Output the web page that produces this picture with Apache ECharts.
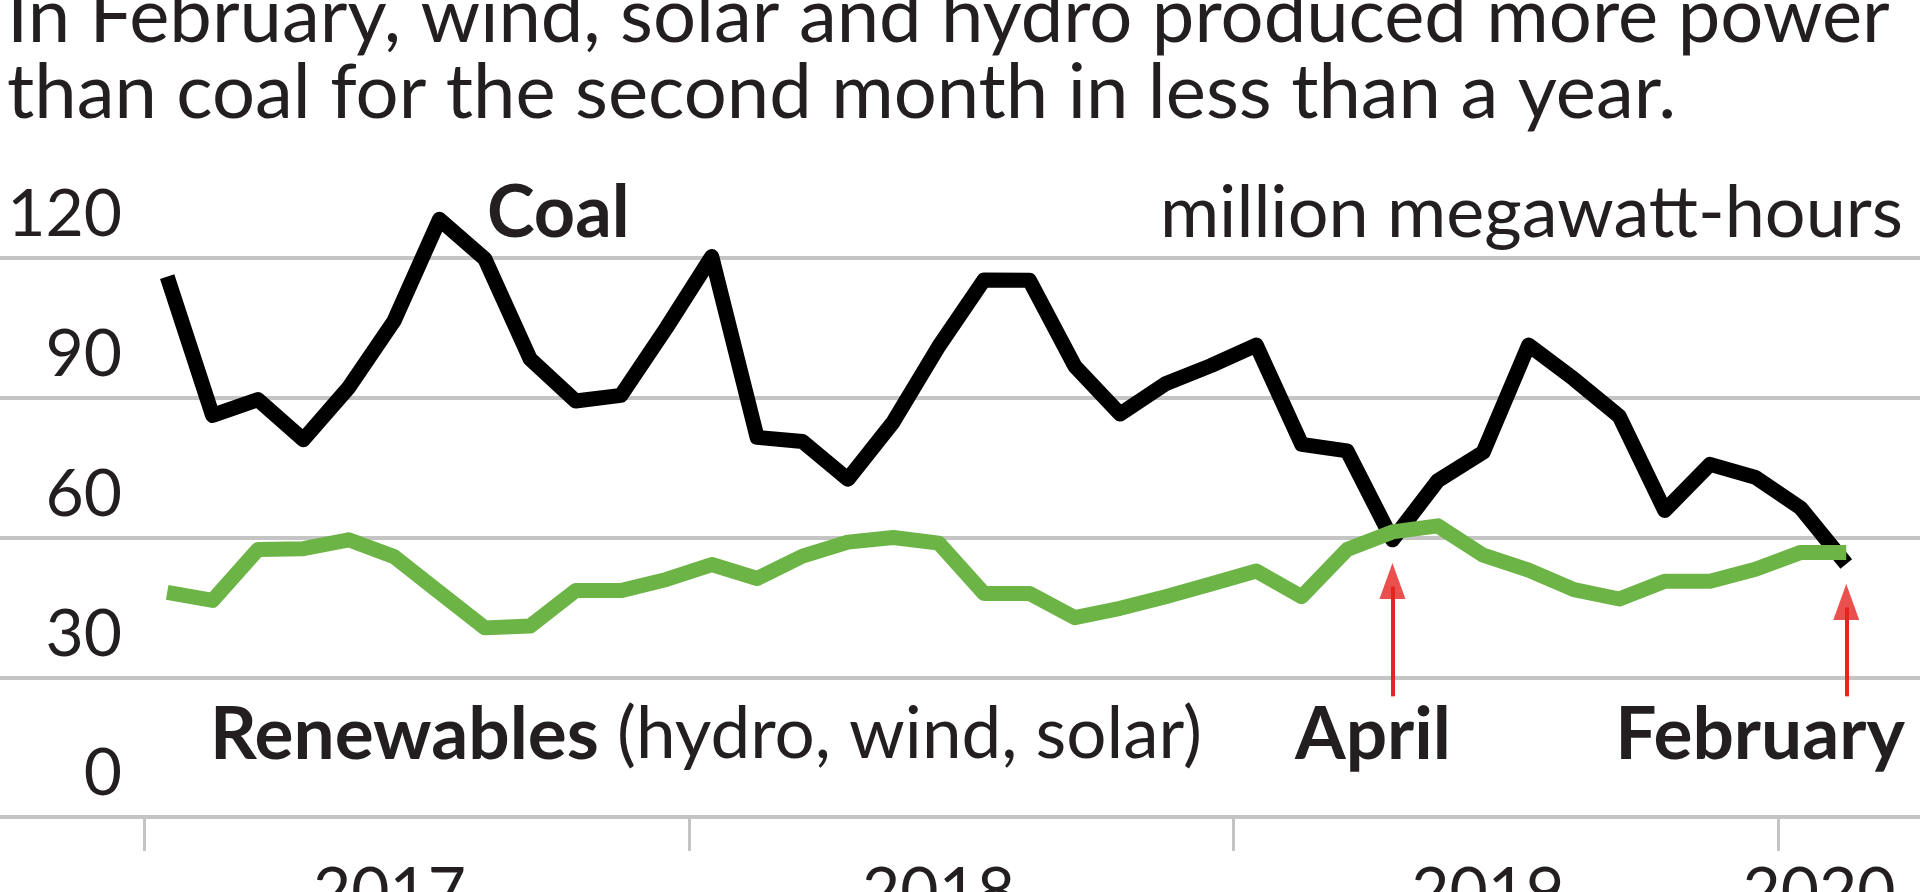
<!DOCTYPE html>
<html>
<head>
<meta charset="utf-8">
<script src="https://cdn.jsdelivr.net/npm/echarts@6/dist/echarts.min.js"></script>
<style>
  html, body { margin: 0; padding: 0; background: #ffffff; }
  #chart { width: 1920px; height: 892px; }
</style>
</head>
<body>
<div id="chart"></div>
<script>
// ---- Data ----
const months = [
  '2017-01','2017-02','2017-03','2017-04','2017-05','2017-06','2017-07','2017-08','2017-09','2017-10','2017-11','2017-12',
  '2018-01','2018-02','2018-03','2018-04','2018-05','2018-06','2018-07','2018-08','2018-09','2018-10','2018-11','2018-12',
  '2019-01','2019-02','2019-03','2019-04','2019-05','2019-06','2019-07','2019-08','2019-09','2019-10','2019-11','2019-12',
  '2020-01','2020-02'
];
const coal = [
  116, 86.2, 89.6, 81, 92.2, 106.5, 128.3, 119.8, 98.3, 89.3, 90.5, 105,
  120.3, 81.5, 80.6, 72.5, 84.8, 101, 115.3, 115.2, 96.8, 86.5, 93, 96.9,
  101.3, 80, 78.6, 59.5, 72.2, 78.3, 101.3, 94, 86, 65.8, 75.7, 72.9,
  66.3, 54.3
];
const renewables = [
  48.2, 46.5, 57.4, 57.6, 59.5, 55.9, 48.2, 40.6, 41, 48.6, 48.6, 51,
  54.2, 51.2, 56, 59, 60, 58.8, 48, 48, 42.8, 44.8, 47.3, 50,
  52.8, 47.3, 57.4, 61.2, 62.5, 56.2, 53, 48.8, 46.8, 50.6, 50.6, 53.2,
  56.8, 56.8
];
const yTicks = [0, 30, 60, 90, 120];
const yearLabels = ['2017', '2018', '2019', '2020'];
const titleLines = [
  'In February, wind, solar and hydro produced more power',
  'than coal for the second month in less than a year.'
];
const highlightMonths = ['2019-04', '2020-02'];
const highlightLabels = ['April', 'February'];

// ---- Build ----
const FONT = 'Lato, "Open Sans", "Noto Sans", sans-serif';
const TXT = '#231f20';
const RED = '#e52421';
const GREEN = '#6cb446';
const GRIDC = '#c4c4c4';

const xOf = (i) => i + 0.5; // data point placed mid-month; 0 = start of Jan 2017
const coalData = coal.map((v, i) => [xOf(i), v]);
const renData = renewables.map((v, i) => [xOf(i), v]);
const hiIdx = highlightMonths.map(m => months.indexOf(m));
const arrowTips = [54.5, 50.0];
const arrowBase = 25.9;

const chart = echarts.init(document.getElementById('chart'), null, { renderer: 'canvas' });

const textStyle = (font, align) => ({
  font: font, fill: TXT,
  textAlign: align, align: align,
  textVerticalAlign: 'middle', verticalAlign: 'middle'
});

const option = {
  animation: false,
  backgroundColor: '#ffffff',
  grid: { left: 0, right: 0, top: 258, bottom: 75, containLabel: false, outerBoundsMode: 'none' },
  xAxis: {
    type: 'value',
    min: -3.184,
    max: 39.125,
    axisLine: { show: false },
    splitLine: { show: false },
    axisTick: {
      show: true,
      customValues: [0, 12, 24, 36],
      length: 34,
      lineStyle: { color: GRIDC, width: 3 }
    },
    axisLabel: {
      show: true,
      customValues: [5.4, 17.5, 29.6, 36.9],
      formatter: (v) => yearLabels[Math.floor(v / 12)],
      margin: 43,
      fontFamily: FONT,
      fontSize: 66,
      lineHeight: 66,
      color: TXT
    }
  },
  yAxis: {
    type: 'value',
    min: 0,
    max: 120,
    interval: 30,
    axisLine: { show: false },
    axisTick: { show: false },
    splitLine: { show: true, lineStyle: { color: GRIDC, width: 4 } },
    axisLabel: {
      inside: true,
      align: 'right',
      verticalAlign: 'bottom',
      margin: 122,
      lineHeight: 86,
      fontFamily: FONT,
      fontSize: 66,
      color: TXT,
      formatter: (v) => (yTicks.indexOf(v) >= 0 ? String(v) : '')
    }
  },
  series: [
    {
      name: 'Coal',
      type: 'line',
      data: coalData,
      showSymbol: false,
      clip: false,
      z: 3,
      lineStyle: { color: '#000000', width: 15, join: 'round' },
      silent: true
    },
    {
      name: 'Renewables',
      type: 'line',
      data: renData,
      showSymbol: false,
      clip: false,
      z: 4,
      lineStyle: { color: GREEN, width: 15, join: 'round' },
      silent: true
    },
    {
      name: 'arrows',
      type: 'line',
      data: [],
      z: 5,
      silent: true,
      markLine: {
        silent: true,
        symbol: ['none', 'none'],
        label: { show: false },
        lineStyle: { color: RED, width: 4, type: 'solid' },
        data: hiIdx.map((idx, k) => [
          { coord: [xOf(idx), arrowBase] },
          { coord: [xOf(idx), arrowTips[k] - 5] }
        ])
      }
    },
    {
      name: 'arrowheads',
      type: 'scatter',
      z: 5,
      silent: true,
      symbol: 'triangle',
      symbolSize: [26, 36],
      symbolOffset: [0, '50%'],
      itemStyle: { color: RED },
      data: hiIdx.map((idx, k) => [xOf(idx), arrowTips[k]])
    }
  ],
  graphic: [
    { type: 'text', x: 7, y: 17, style: Object.assign({ text: titleLines[0] }, textStyle('76px ' + FONT, 'left')) },
    { type: 'text', x: 7, y: 93, style: Object.assign({ text: titleLines[1] }, textStyle('76px ' + FONT, 'left')) },
    { type: 'text', x: 487, y: 214, style: Object.assign({ text: 'Coal' }, textStyle('bold 72px ' + FONT, 'left')) },
    { type: 'text', x: 1903, y: 214, style: Object.assign({ text: 'million megawatt-hours' }, textStyle('72px ' + FONT, 'right')) },
    {
      type: 'text', x: 210, y: 735,
      style: Object.assign({
        text: '{b|Renewables} (hydro, wind, solar)',
        rich: { b: { font: 'bold 73px ' + FONT, fill: TXT } }
      }, textStyle('71px ' + FONT, 'left'))
    },
    { type: 'text', x: 1373, y: 735, style: Object.assign({ text: highlightLabels[0] }, textStyle('bold 73px ' + FONT, 'center')) },
    { type: 'text', x: 1905, y: 735, style: Object.assign({ text: highlightLabels[1] }, textStyle('bold 73px ' + FONT, 'right')) }
  ]
};
chart.setOption(option);
</script>
</body>
</html>
